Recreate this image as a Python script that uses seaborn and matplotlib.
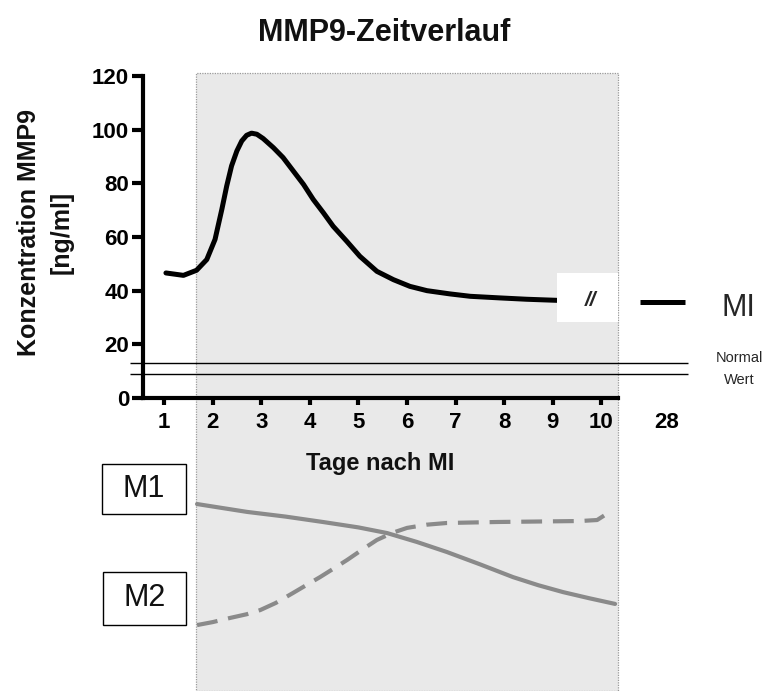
import matplotlib
matplotlib.use("Agg")
import matplotlib.pyplot as plt
from matplotlib.patches import Rectangle
from matplotlib.transforms import blended_transform_factory
import pandas as pd
import seaborn as sns

# MMP9 concentration (ng/ml) over days after myocardial infarction
day = [1.04, 1.40, 1.67, 1.88, 2.05, 2.19, 2.29, 2.39, 2.50, 2.60, 2.70, 2.80,
       2.91, 3.04, 3.25, 3.45, 3.66, 3.87, 4.07, 4.28, 4.48, 4.76, 5.03, 5.38,
       5.72, 6.06, 6.41, 6.88, 7.30, 7.91, 8.46, 9.08, 9.50]
mmp9 = [46.6, 45.7, 47.6, 51.6, 59.1, 70.3, 79.0, 86.5, 92.1, 95.8, 97.9, 98.7,
        98.3, 96.7, 93.3, 89.6, 84.6, 79.6, 74.0, 69.0, 64.0, 58.4, 52.8, 47.2,
        44.1, 41.6, 40.0, 38.8, 37.9, 37.3, 36.8, 36.4, 36.3]

# Level at day 28 (shown beside the axis break)
day28_level = 35.9

# Normal range (ng/ml)
normal_range = [9.0, 13.1]

# Relative macrophage phenotype levels (arbitrary units)
m1_day = [1.68, 2.71, 3.50, 4.27, 5.00, 5.59, 6.20, 6.82, 7.50, 8.18, 8.70,
          9.21, 9.75, 10.28]
m1_level = [76.0, 72.8, 70.9, 68.7, 66.5, 64.2, 60.6, 56.5, 51.5, 46.3, 43.0,
            40.2, 37.7, 35.4]
m2_day = [1.68, 2.00, 2.36, 2.70, 2.98, 3.30, 3.65, 3.95, 4.21, 4.50, 4.77,
          5.08, 5.38, 5.70, 6.00, 6.40, 6.82, 7.85, 8.70, 9.56, 9.91, 10.14]
m2_level = [26.8, 28.0, 29.7, 31.2, 32.9, 35.8, 39.8, 43.3, 46.3, 49.9, 53.3,
            57.5, 61.4, 64.3, 66.3, 67.6, 68.3, 68.7, 68.9, 69.1, 69.5, 72.4]

y_ticks = [0, 20, 40, 60, 80, 100, 120]
x_ticks = [1, 2, 3, 4, 5, 6, 7, 8, 9, 10]

sns.set_theme(style="ticks")
plt.rcParams["font.family"] = ["Liberation Sans", "DejaVu Sans"]

W, H = 769, 691
fig = plt.figure(figsize=(W / 100, H / 100), dpi=100)

def fx(px):
    return px / W

def fy(py):
    return 1 - py / H

xmin, xmax = 0.568, 10.34

ax = fig.add_axes([fx(143), fy(398), fx(618) - fx(143), fy(76) - fy(398)])
ax.patch.set_visible(False)
ax.set_xlim(xmin, xmax)
ax.set_ylim(0, 120)

# shaded acute phase window (day ~1.7 to end of axis), spanning the full height
shade_tr = blended_transform_factory(ax.transData, fig.transFigure)
fig.add_artist(Rectangle((1.66, 0), xmax - 1.66, fy(73), transform=shade_tr,
                         facecolor="#e9e9e9", edgecolor="#9a9a9a", lw=0.9,
                         linestyle=(0, (1, 1)), zorder=-5))

df_main = pd.DataFrame({"day": day, "mmp9": mmp9})
sns.lineplot(data=df_main, x="day", y="mmp9", ax=ax, color="black", lw=3.6,
             sort=False, estimator=None, zorder=3)
ax.lines[-1].set_solid_joinstyle("round")

# axis break box with "//"
ax.add_patch(Rectangle((9.09, 28.4), xmax - 9.09, 18.3, facecolor="white",
                       edgecolor="none", zorder=4, clip_on=False))
ax.text(9.77, 36.5, "//", ha="center", va="center", fontsize=15,
        fontweight="bold", style="italic", zorder=5)

# day 28 level segment and label
ax.plot([10.79, 11.72], [day28_level, day28_level], color="black", lw=3.6,
        clip_on=False, solid_capstyle="butt")
fig.text(fx(738), fy(308), "MI", ha="center", va="center", fontsize=22)

# normal range lines
ax.hlines(normal_range, 0.30, 11.78, colors="black", lw=1.0, clip_on=False,
          zorder=2)
fig.text(fx(739), fy(358), "Normal", ha="center", va="center", fontsize=10.5)
fig.text(fx(739), fy(380), "Wert", ha="center", va="center", fontsize=10.5)

sns.despine(ax=ax)
for s in ("left", "bottom"):
    ax.spines[s].set_linewidth(3)
    ax.spines[s].set_color("black")
ax.set_yticks(y_ticks)
ax.set_xticks(x_ticks)
ax.tick_params(axis="y", length=8, width=3, pad=2, labelsize=16,
               colors="black")
ax.tick_params(axis="x", length=5, width=3, pad=5, labelsize=16,
               colors="black")
for lab in ax.get_xticklabels() + ax.get_yticklabels():
    lab.set_fontweight("bold")
    lab.set_color("black")
ax.text(11.35, -0.043, "28", transform=blended_transform_factory(ax.transData, ax.transAxes),
        ha="center", va="top", fontsize=16, fontweight="bold", color="black")

ax.set_xlabel("Tage nach MI", fontsize=17, fontweight="bold", labelpad=14,
              color="#111111")
ax.set_ylabel("")
fig.text(fx(45), fy(232), "Konzentration MMP9\n[ng/ml]", rotation=90,
         ha="center", va="center", fontsize=18, fontweight="bold",
         linespacing=1.45, multialignment="center", color="#111111")

fig.text(fx(384), fy(33), "MMP9-Zeitverlauf", ha="center", va="center",
         fontsize=22, fontweight="bold", color="#111111")

# lower panel: M1 / M2 macrophage trends
ax2 = fig.add_axes([fx(143), 0, fx(618) - fx(143), fy(445)])
ax2.patch.set_visible(False)
ax2.set_xlim(xmin, xmax)
ax2.set_ylim(0, 100)
ax2.axis("off")

df_m1 = pd.DataFrame({"day": m1_day, "level": m1_level})
df_m2 = pd.DataFrame({"day": m2_day, "level": m2_level})
sns.lineplot(data=df_m1, x="day", y="level", ax=ax2, color="#8a8a8a", lw=3,
             sort=False, estimator=None)
sns.lineplot(data=df_m2, x="day", y="level", ax=ax2, color="#8a8a8a", lw=3,
             sort=False, estimator=None)
ax2.lines[-1].set_dashes((5, 2.6))

for label, (x0, y0, x1, y1) in (("M1", (102, 464, 186, 514)),
                                ("M2", (103, 572, 186, 625))):
    fig.add_artist(Rectangle((fx(x0), fy(y1)), fx(x1) - fx(x0), fy(y0) - fy(y1),
                             transform=fig.transFigure, facecolor="white",
                             edgecolor="black", lw=1.0))
    fig.text(fx((x0 + x1) / 2), fy((y0 + y1) / 2), label, ha="center",
             va="center", fontsize=22, color="#111111")

fig.savefig("out.png", dpi=100)
